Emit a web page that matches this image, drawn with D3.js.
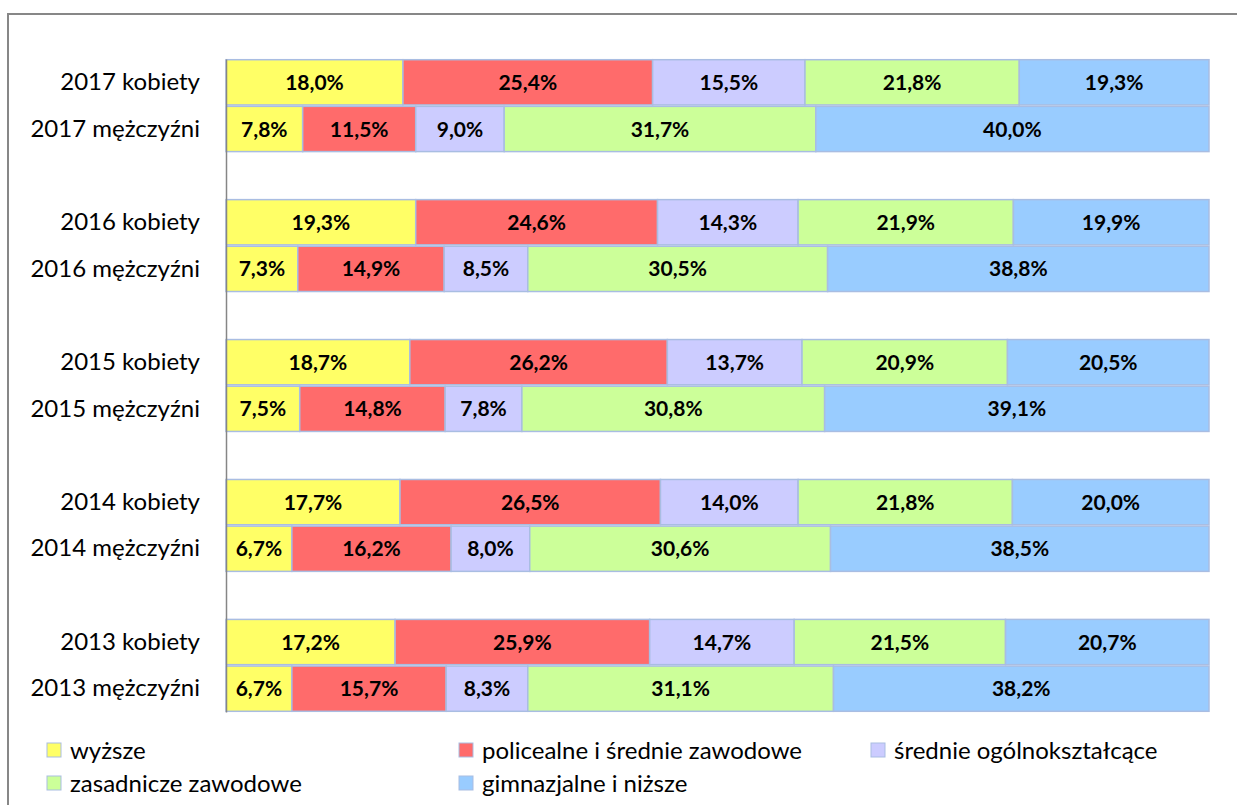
<!DOCTYPE html>
<html><head><meta charset="utf-8">
<script src="https://cdn.jsdelivr.net/npm/d3@7"></script>
<style>
html,body{margin:0;padding:0;background:#fff;overflow:hidden;}
svg{display:block;font-family:Lato,"Open Sans",sans-serif;}
</style></head>
<body>
<svg id="chart" width="1237" height="805"></svg>
<script>
const categories = ["2017 kobiety","2017 mężczyźni","2016 kobiety","2016 mężczyźni","2015 kobiety","2015 mężczyźni","2014 kobiety","2014 mężczyźni","2013 kobiety","2013 mężczyźni"];
const seriesNames = ["wyższe","policealne i średnie zawodowe","średnie ogólnokształcące","zasadnicze zawodowe","gimnazjalne i niższe"];
const wyzsze      = [18.0, 7.8, 19.3, 7.3, 18.7, 7.5, 17.7, 6.7, 17.2, 6.7];
const policealne  = [25.4, 11.5, 24.6, 14.9, 26.2, 14.8, 26.5, 16.2, 25.9, 15.7];
const srednieOgol = [15.5, 9.0, 14.3, 8.5, 13.7, 7.8, 14.0, 8.0, 14.7, 8.3];
const zasadnicze  = [21.8, 31.7, 21.9, 30.5, 20.9, 30.8, 21.8, 30.6, 21.5, 31.1];
const gimnazjalne = [19.3, 40.0, 19.9, 38.8, 20.5, 39.1, 20.0, 38.5, 20.7, 38.2];
const seriesValues = [wyzsze, policealne, srednieOgol, zasadnicze, gimnazjalne];
const colors = ["#ffff66","#ff6b6b","#ccccff","#ccff99","#99ccff"];

const svg = d3.select("#chart");

// outer chart border
svg.append("rect").attr("x",8).attr("y",14).attr("width",1300).attr("height",900)
  .attr("fill","none").attr("stroke","#878787").attr("stroke-width",2);

// y domain with blank spacer rows between year groups
const yDomain = [];
categories.forEach((c,i)=>{ yDomain.push(c); if(i%2===1 && i<categories.length-1) yDomain.push("__gap"+i); });

const x = d3.scaleLinear().domain([0,100]).range([226,1209]);
const y = d3.scaleBand().domain(yDomain).range([59,712]).paddingInner(0.03).paddingOuter(0.015);

// stacked rows
const rows = categories.map((c,i)=>{ const o={cat:c}; seriesNames.forEach((s,j)=>o[s]=seriesValues[j][i]); return o; });
const stacked = d3.stack().keys(seriesNames)(rows);

const fmt = v => d3.format(".1f")(v).replace(".", ",") + "%";

const layers = svg.append("g").selectAll("g").data(stacked).join("g")
  .attr("fill",(d,i)=>colors[i]);
layers.selectAll("rect").data(d=>d).join("rect")
  .attr("x",d=>x(d[0])).attr("y",d=>y(d.data.cat))
  .attr("width",d=>x(d[1])-x(d[0])).attr("height",y.bandwidth())
  .attr("stroke","#a9bde2").attr("stroke-width",1.5);

// value labels
svg.append("g").selectAll("g").data(stacked).join("g")
  .selectAll("text").data(d=>d.map(p=>({p, key:d.key}))).join("text")
  .attr("x",d=>(x(d.p[0])+x(d.p[1]))/2)
  .attr("y",d=>y(d.p.data.cat)+y.bandwidth()/2)
  .attr("dy","0.36em").attr("text-anchor","middle")
  .attr("font-weight","bold").attr("font-size",21).attr("fill","#000")
  .text(d=>fmt(d.p.data[d.key]));

// category axis
const axis = svg.append("g").attr("transform","translate(226,0)")
  .call(d3.axisLeft(y).tickValues(categories).tickSize(0).tickPadding(26));
axis.select(".domain").attr("stroke","#868686").attr("stroke-width",1.5);
axis.selectAll("text").attr("font-size",24).attr("fill","#000")
  .attr("font-family","Lato, 'Open Sans', sans-serif");

// legend
const legendPos = [[47,750],[459,750],[871,750],[47,783],[459,783]];
const lg = svg.append("g").selectAll("g").data(seriesNames).join("g")
  .attr("transform",(d,i)=>`translate(${legendPos[i][0]},${legendPos[i][1]})`);
lg.append("rect").attr("x",0).attr("y",-7).attr("width",14).attr("height",14)
  .attr("fill",(d,i)=>colors[i]).attr("stroke","#a9bde2").attr("stroke-width",1);
lg.append("text").attr("x",23).attr("y",0).attr("dy","0.36em")
  .attr("font-size",24).attr("fill","#000").text(d=>d);
</script>
</body></html>
